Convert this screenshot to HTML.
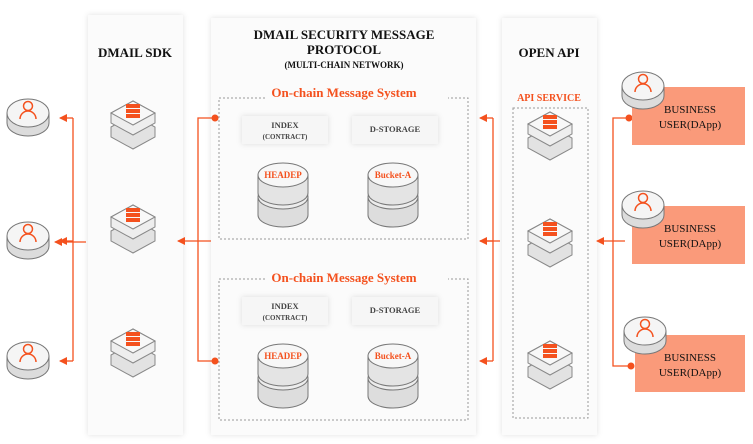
<!DOCTYPE html>
<html><head><meta charset="utf-8"><style>
html,body{margin:0;padding:0;background:#fff;}
svg{display:block;font-family:"Liberation Serif",serif;}
</style></head><body>
<svg width="753" height="444" viewBox="0 0 753 444" xmlns="http://www.w3.org/2000/svg">
<defs>
<filter id="sh" x="-20%" y="-20%" width="140%" height="140%"><feDropShadow dx="0" dy="0" stdDeviation="3" flood-color="#000" flood-opacity="0.12"/></filter>
<marker id="ar" markerWidth="8" markerHeight="8" refX="7" refY="4" orient="auto" markerUnits="userSpaceOnUse"><path d="M0,0 L8,4 L0,8 Z" fill="#f4511e"/></marker>
<g id="puck">
<path d="M-21,-2 L-21,8 A21,13 0 0 0 21,8 L21,-2" fill="#dcdcdc" stroke="#777" stroke-width="1"/>
<ellipse cx="0" cy="-2" rx="21" ry="14" fill="#f5f5f5" stroke="#777" stroke-width="1"/>
<circle cx="0" cy="-9" r="4.5" fill="none" stroke="#f4511e" stroke-width="1.5"/>
<path d="M-8,4 A8,8 0 0 1 8,4" fill="none" stroke="#f4511e" stroke-width="1.5"/>
</g>
<g id="stack">
<path d="M-22,5 L0,-7 L22,5 L22,15 L0,27 L-22,15 Z" fill="#e2e2e2" stroke="#888" stroke-width="1"/>
<path d="M-22,-9 L0,-21 L22,-9 L22,1 L0,13 L-22,1 Z" fill="#eee" stroke="#888" stroke-width="1"/>
<path d="M-22,-9 L0,-21 L22,-9 L0,3 Z" fill="#f8f8f8" stroke="#888" stroke-width="1"/>
<rect x="-7" y="-18" width="14" height="4" fill="#f4511e"/>
<rect x="-7" y="-13" width="14" height="4" fill="#f4511e"/>
<rect x="-7" y="-8" width="14" height="4" fill="#f4511e"/>
</g>
<g id="cyl">
<path d="M-25,22 L-25,40 A25,12 0 0 0 25,40 L25,22" fill="#ddd" stroke="#777"/>
<ellipse cx="0" cy="22" rx="25" ry="12" fill="#ececec" stroke="#777"/>
<path d="M-25,0 L-25,18 A25,12 0 0 0 25,18 L25,0" fill="#e4e4e4" stroke="#777"/>
<ellipse cx="0" cy="0" rx="25" ry="12" fill="#f7f7f7" stroke="#777"/>
</g>
</defs>

<rect x="88" y="15" width="95" height="420" fill="#fbfbfb" filter="url(#sh)"/>
<rect x="211" y="18" width="265" height="417" fill="#fbfbfb" filter="url(#sh)"/>
<rect x="502" y="18" width="95" height="417" fill="#fbfbfb" filter="url(#sh)"/>

<g font-weight="bold" fill="#111" text-anchor="middle">
<text x="135" y="57" font-size="13">DMAIL SDK</text>
<text x="344" y="39" font-size="13">DMAIL SECURITY MESSAGE</text>
<text x="344" y="54" font-size="13">PROTOCOL</text>
<text x="344" y="68" font-size="9">(MULTI-CHAIN NETWORK)</text>
<text x="549" y="57" font-size="13">OPEN API</text>
</g>

<g fill="none" stroke="#999" stroke-dasharray="2,2">
<path d="M265,98 L219,98 L219,239 L468,239 L468,98 L448,98"/>
<path d="M265,279 L219,279 L219,420 L468,420 L468,279 L448,279"/>
<rect x="513" y="108" width="75" height="310"/>
</g>
<g font-weight="bold" fill="#f4511e" text-anchor="middle">
<text x="344" y="97" font-size="13">On-chain Message System</text>
<text x="344" y="282" font-size="13">On-chain Message System</text>
<text x="549" y="101" font-size="10">API SERVICE</text>
</g>

<g filter="url(#sh)" fill="#f6f6f6">
<rect x="242" y="116" width="86" height="28"/><rect x="352" y="116" width="86" height="28"/>
<rect x="242" y="297" width="86" height="28"/><rect x="352" y="297" width="86" height="28"/>
</g>
<g font-weight="bold" fill="#444" text-anchor="middle">
<text x="285" y="128" font-size="8.5">INDEX</text><text x="285" y="139" font-size="7">(CONTRACT)</text>
<text x="395" y="132" font-size="8.5">D-STORAGE</text>
<text x="285" y="309" font-size="8.5">INDEX</text><text x="285" y="320" font-size="7">(CONTRACT)</text>
<text x="395" y="313" font-size="8.5">D-STORAGE</text>
</g>

<use href="#cyl" x="283" y="175"/><use href="#cyl" x="393" y="175"/>
<use href="#cyl" x="283" y="356"/><use href="#cyl" x="393" y="356"/>
<g font-weight="bold" fill="#f4511e" text-anchor="middle" font-size="9">
<text x="283" y="178">HEADEP</text><text x="393" y="178">Bucket-A</text>
<text x="283" y="359">HEADEP</text><text x="393" y="359">Bucket-A</text>
</g>

<use href="#stack" x="133" y="122"/><use href="#stack" x="133" y="226"/><use href="#stack" x="133" y="350"/>
<use href="#stack" x="550" y="133"/><use href="#stack" x="550" y="240"/><use href="#stack" x="550" y="362"/>

<use href="#puck" x="28" y="115"/><use href="#puck" x="28" y="238"/><use href="#puck" x="28" y="358"/>

<g stroke="#f4511e" stroke-width="1.3" fill="none">
<path d="M73,118 L73,361"/>
<path d="M73,118 L60,118" marker-end="url(#ar)"/>
<path d="M73,241 L60,241" marker-end="url(#ar)"/>
<path d="M73,361 L60,361" marker-end="url(#ar)"/>
<path d="M86,242 L55,242" marker-end="url(#ar)"/>
<path d="M215,118 L198,118 L198,361 L215,361"/>
<path d="M211,241 L178,241" marker-end="url(#ar)"/>
<path d="M493,118 L493,361"/>
<path d="M493,118 L480,118" marker-end="url(#ar)"/>
<path d="M493,241 L480,241" marker-end="url(#ar)"/>
<path d="M493,361 L480,361" marker-end="url(#ar)"/>
<path d="M500,241 L480,241"/>
<path d="M629,118 L613,118 L613,366 L631,366"/>
<path d="M625,241 L597,241" marker-end="url(#ar)"/>
</g>
<g fill="#f4511e">
<circle cx="215" cy="118" r="3.5"/><circle cx="215" cy="361" r="3.5"/>
<circle cx="629" cy="118" r="3.5"/><circle cx="631" cy="366" r="3.5"/>
</g>

<g fill="#fa9a7a">
<rect x="632" y="87" width="113" height="58"/>
<rect x="632" y="206" width="113" height="58"/>
<rect x="635" y="335" width="110" height="57"/>
</g>
<use href="#puck" x="643" y="88"/><use href="#puck" x="643" y="207"/><use href="#puck" x="645" y="333"/>
<g fill="#111" text-anchor="middle" font-size="11">
<text x="690" y="113">BUSINESS</text><text x="690" y="128">USER(DApp)</text>
<text x="690" y="232">BUSINESS</text><text x="690" y="247">USER(DApp)</text>
<text x="690" y="361">BUSINESS</text><text x="690" y="376">USER(DApp)</text>
</g>
</svg>
</body></html>
